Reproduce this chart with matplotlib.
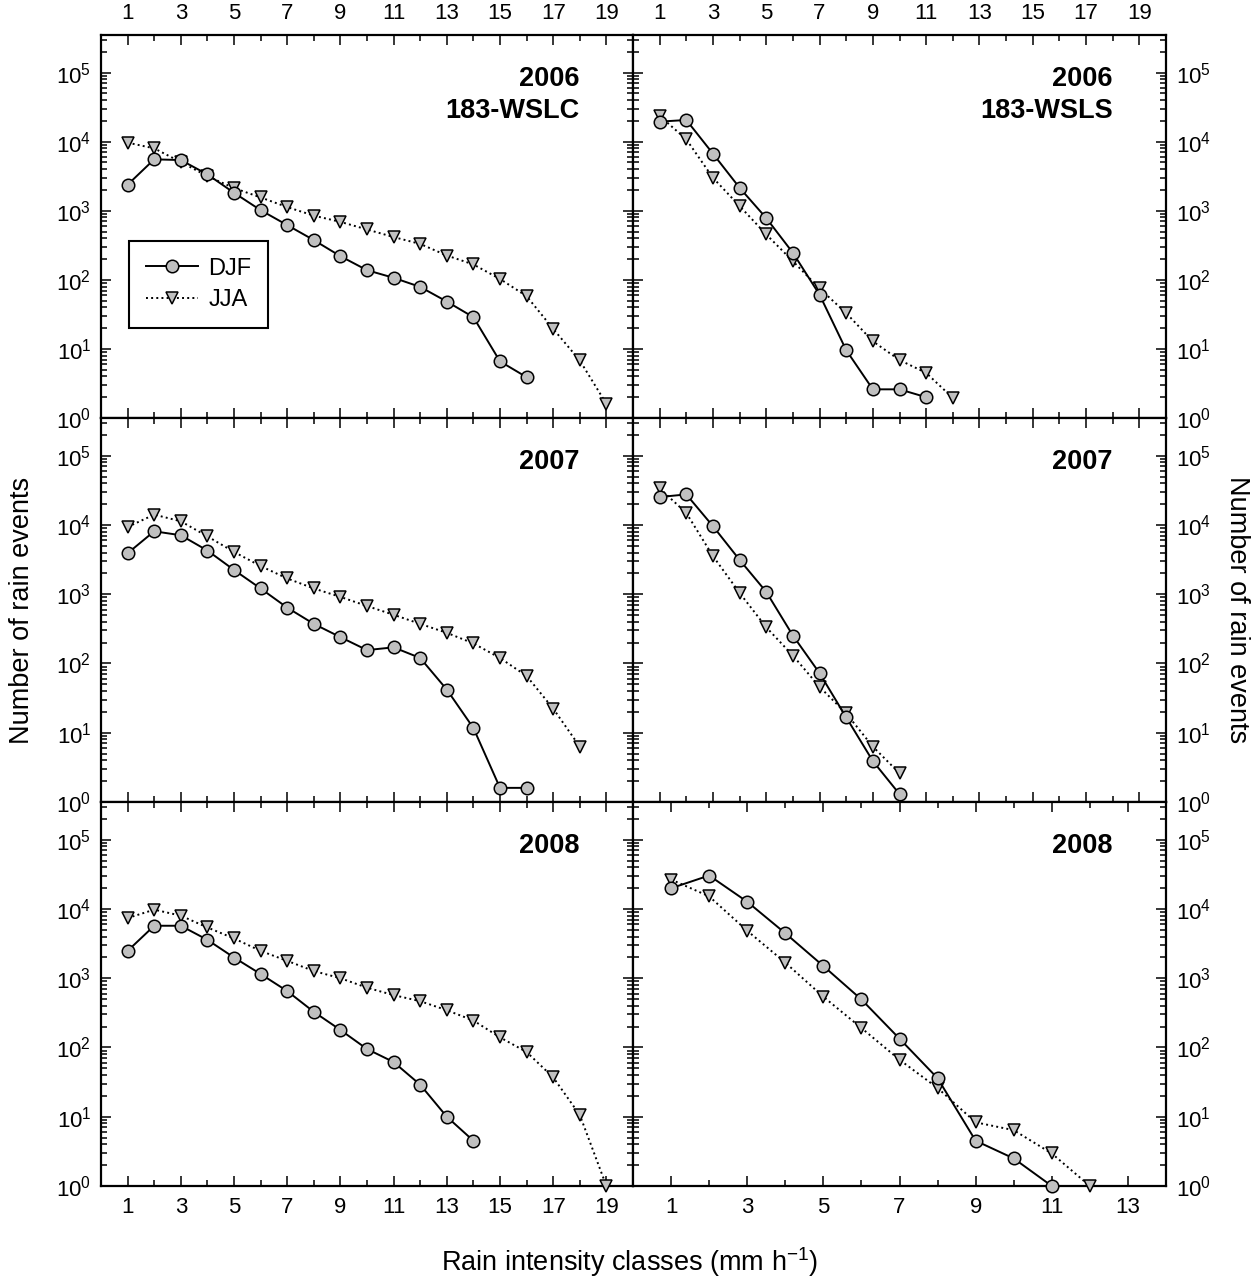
import numpy as np
import matplotlib
matplotlib.use('Agg')
import matplotlib.pyplot as plt
from matplotlib.ticker import LogLocator, FixedLocator, NullFormatter

plt.rcParams['font.family'] = ['Liberation Sans', 'DejaVu Sans']
plt.rcParams['mathtext.default'] = 'regular'

# values (number of rain events per intensity class)
djf_2006_wslc = [2380, 5550, 5420, 3360, 1820, 1020, 620, 376, 220, 138, 107, 79, 48.5, 28.8, 6.6, 3.9]
jja_2006_wslc = [9680, 8000, 5070, 3170, 2130, 1560, 1130, 850, 690, 536, 416, 331, 225, 167, 103, 58,
                 19.5, 6.8, 1.6]
djf_2006_wsls = [19500, 20600, 6700, 2150, 783, 246, 61, 9.6, 2.6, 2.6, 2.0]
jja_2006_wsls = [23600, 10800, 3000, 1170, 454, 186, 75, 33, 12.9, 6.9, 4.5, 1.95]

djf_2007_wslc = [3900, 8100, 7100, 4270, 2240, 1210, 640, 373, 240, 156, 171, 120, 42, 11.7, 1.6, 1.6]
jja_2007_wslc = [9350, 14100, 11300, 6840, 4080, 2550, 1690, 1210, 915, 675, 505, 373, 277, 195, 120, 66,
                 22.3, 6.3]
djf_2007_wsls = [25300, 27600, 9600, 3130, 1080, 253, 72.5, 16.7, 3.9, 1.3]
jja_2007_wsls = [33700, 14900, 3550, 1045, 333, 130, 46, 19, 6.3, 2.6]

djf_2008_wslc = [2480, 5720, 5720, 3580, 1990, 1150, 652, 327, 179, 95, 61.6, 29, 10, 4.5]
jja_2008_wslc = [7380, 9770, 8000, 5400, 3750, 2480, 1780, 1270, 1000, 730, 570, 466, 345, 245, 140, 86,
                 37, 10.6, 1.0]
djf_2008_wsls = [19900, 30400, 12700, 4460, 1500, 493, 134, 36, 4.5, 2.5, 1.0]
jja_2008_wsls = [26600, 15200, 4840, 1680, 540, 191, 66.5, 26, 8.3, 6.4, 2.95, 1.0]

panels = [
    (djf_2006_wslc, jja_2006_wslc, '2006\n183-WSLC'),
    (djf_2006_wsls, jja_2006_wsls, '2006\n183-WSLS'),
    (djf_2007_wslc, jja_2007_wslc, '2007'),
    (djf_2007_wsls, jja_2007_wsls, '2007'),
    (djf_2008_wslc, jja_2008_wslc, '2008'),
    (djf_2008_wsls, jja_2008_wsls, '2008'),
]

fig = plt.figure(figsize=(12.57, 12.80), dpi=100)

col_x = [101 / 1257, 633 / 1257]
col_w = [532 / 1257, 533 / 1257]
row_y = [1 - 418 / 1280, 1 - 802 / 1280, 1 - 1186 / 1280]
row_h = [383 / 1280, 384 / 1280, 384 / 1280]

gray = '#c0c0c0'
tick_fs = 16

for i, (djf, jja, label) in enumerate(panels):
    row, col = divmod(i, 2)
    ax = fig.add_axes([col_x[col], row_y[row], col_w[col], row_h[row]])

    x_djf = np.arange(1, len(djf) + 1)
    x_jja = np.arange(1, len(jja) + 1)
    l_jja, = ax.plot(x_jja, jja, linestyle=':', color='black', lw=1.4, marker='v',
                     ms=9, mfc=gray, mec='black', mew=1.1, clip_on=False, zorder=3)
    l_djf, = ax.plot(x_djf, djf, linestyle='-', color='black', lw=1.4, marker='o',
                     ms=9, mfc=gray, mec='black', mew=1.1, clip_on=False, zorder=4)

    ax.set_yscale('log')
    ax.set_ylim(1, 3.5e5)
    if row == 2 and col == 1:
        ax.set_xlim(0, 14)
        ax.xaxis.set_major_locator(FixedLocator(np.arange(1, 14, 2)))
        ax.xaxis.set_minor_locator(FixedLocator(np.arange(2, 14, 2)))
    else:
        ax.set_xlim(0, 20)
        ax.xaxis.set_major_locator(FixedLocator(np.arange(1, 20, 2)))
        ax.xaxis.set_minor_locator(FixedLocator(np.arange(2, 20, 2)))

    ax.yaxis.set_major_locator(LogLocator(base=10, numticks=10))
    ax.yaxis.set_minor_locator(LogLocator(base=10, subs=np.arange(2, 10), numticks=20))
    ax.yaxis.set_minor_formatter(NullFormatter())

    ax.tick_params(which='both', direction='in', top=True, right=True, bottom=True, left=True,
                   width=1.1, labelsize=tick_fs, pad=7)
    ax.tick_params(which='major', length=7)
    ax.tick_params(which='minor', length=4.5)
    ax.tick_params(axis='x', pad=8)
    ax.tick_params(labelleft=(col == 0), labelright=(col == 1),
                   labeltop=(row == 0), labelbottom=(row == 2))
    for s in ax.spines.values():
        s.set_linewidth(1.6)

    ax.text(0.9, 0.92, label, transform=ax.transAxes, ha='right', va='top',
            fontsize=19.5, fontweight='bold', linespacing=1.3)

    if i == 0:
        leg = ax.legend([l_djf, l_jja], ['DJF', 'JJA'], loc='upper left',
                        bbox_to_anchor=(0.053, 0.462), borderaxespad=0, fancybox=False,
                        edgecolor='black', framealpha=1, fontsize=17, handlelength=2.2,
                        handletextpad=0.45, labelspacing=0.4, borderpad=0.7)
        leg.get_frame().set_linewidth(1.5)

fig.text(22 / 1257, 1 - 610 / 1280, 'Number of rain events', rotation=90,
         ha='center', va='center', fontsize=19.5)
fig.text(1237 / 1257, 1 - 610 / 1280, 'Number of rain events', rotation=270,
         ha='center', va='center', fontsize=19.5)
fig.text(630 / 1257, 1 - 1262 / 1280, r'Rain intensity classes (mm h$^{-1}$)',
         ha='center', va='center', fontsize=19.5)

fig.savefig('out.png', dpi=100)
